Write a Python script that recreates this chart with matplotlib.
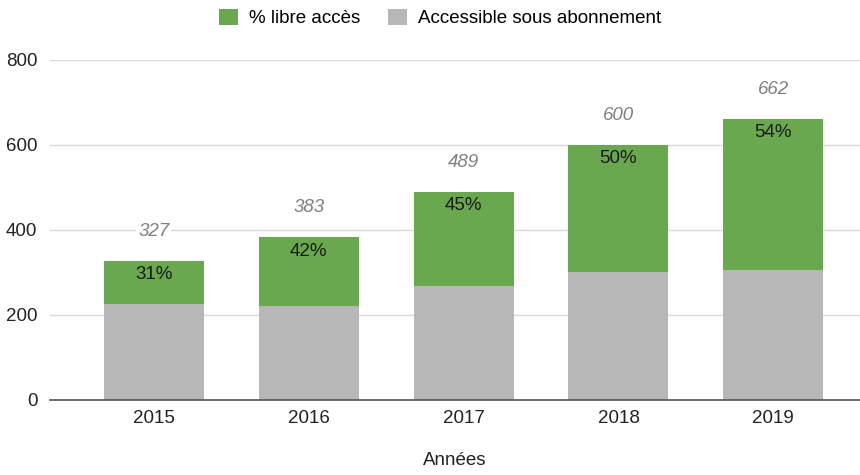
import matplotlib.pyplot as plt
from matplotlib.patches import Patch

years = ["2015", "2016", "2017", "2018", "2019"]
totals = [327, 383, 489, 600, 662]
pct_open = [31, 42, 45, 50, 54]

# split each year's total into open-access and subscription parts
open_access = [round(t * p / 100) for t, p in zip(totals, pct_open)]
subscription = [t - o for t, o in zip(totals, open_access)]

green = "#6aa84f"
grey = "#b7b7b7"
fs = 13.5

plt.rcParams["font.family"] = ["Liberation Sans", "DejaVu Sans"]

fig = plt.figure(figsize=(8.6, 4.75), dpi=100)
ax = fig.add_axes([0.058, 0.158, 0.942, 0.716])

x = range(len(years))
w = 0.646
ax.bar(x, subscription, w, color=grey, zorder=2)
ax.bar(x, open_access, w, bottom=subscription, color=green, zorder=2)

for i in x:
    ax.annotate(f"{pct_open[i]}%", (i, totals[i]), xytext=(0, -10),
                textcoords="offset points", ha="center", va="center",
                fontsize=fs, color="#1a1a1a", zorder=3)
    ax.annotate(str(totals[i]), (i, totals[i]), xytext=(0, 21),
                textcoords="offset points", ha="center", va="center",
                fontsize=fs, style="italic", color="#808080", zorder=3,
                bbox=dict(boxstyle="square,pad=0.1", fc="white", ec="none"))

ax.set_xlim(-0.672, 4.56)
ax.set_ylim(0, 800)
ax.set_yticks([0, 200, 400, 600, 800])
ax.set_xticks(list(x))
ax.set_xticklabels(years)
ax.grid(axis="y", color="#d9d9d9", linewidth=1, zorder=0)
ax.tick_params(length=0, labelsize=fs, colors="#222222")
ax.tick_params(axis="x", pad=7)
ax.tick_params(axis="y", pad=9)
for s in ["top", "right", "left"]:
    ax.spines[s].set_visible(False)
ax.spines["bottom"].set_color("#555555")
ax.spines["bottom"].set_linewidth(1.2)
ax.spines["bottom"].set_zorder(4)

ax.set_xlabel("Années", fontsize=fs, color="#222222", labelpad=18)

handles = [Patch(facecolor=green, label="% libre accès"),
           Patch(facecolor=grey, label="Accessible sous abonnement")]
fig.legend(handles=handles, loc="center", bbox_to_anchor=(0.512, 0.962),
           ncol=2, frameon=False, fontsize=fs, handlelength=1.0,
           handleheight=1.0, columnspacing=1.5, handletextpad=0.6)

fig.savefig("out.png", dpi=100)
